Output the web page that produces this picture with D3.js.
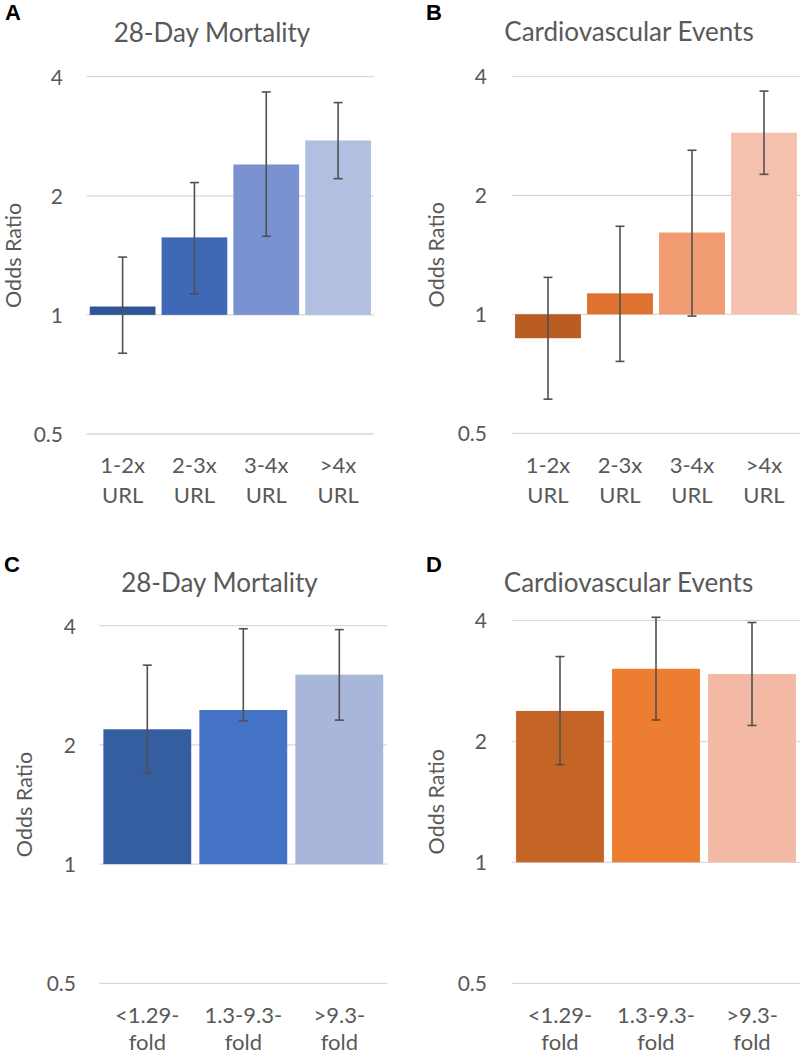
<!DOCTYPE html>
<html>
<head>
<meta charset="utf-8">
<script src="https://cdn.jsdelivr.net/npm/d3@7"></script>
<style>
  html, body { margin: 0; padding: 0; background: #ffffff; }
  svg { display: block; }
  text { font-family: Lato, "Open Sans", sans-serif; fill: #595959; }
</style>
</head>
<body>
<svg id="chart" width="800" height="1054"></svg>
<script>
// ---------- data ----------
const panelLabels = ["A", "B", "C", "D"];
const panelTitles = ["28-Day Mortality", "Cardiovascular Events", "28-Day Mortality", "Cardiovascular Events"];
const yAxisTitle = "Odds Ratio";
const yTickValues = [0.5, 1, 2, 4];
const yTickLabels = ["0.5", "1", "2", "4"];

const urlCategories = [["1-2x", "URL"], ["2-3x", "URL"], ["3-4x", "URL"], [">4x", "URL"]];
const foldCategories = [["<1.29-", "fold"], ["1.3-9.3-", "fold"], [">9.3-", "fold"]];

// A: 28-day mortality by URL multiple
const mortalityUrlOR    = [1.05, 1.57, 2.40, 2.76];
const mortalityUrlLower = [0.80, 1.13, 1.58, 2.21];
const mortalityUrlUpper = [1.40, 2.16, 3.66, 3.44];
// B: cardiovascular events by URL multiple
const cvUrlOR    = [0.87, 1.13, 1.61, 2.88];
const cvUrlLower = [0.61, 0.76, 0.99, 2.26];
const cvUrlUpper = [1.24, 1.67, 2.60, 3.67];
// C: 28-day mortality by fold change
const mortalityFoldOR    = [2.19, 2.45, 3.01];
const mortalityFoldLower = [1.70, 2.30, 2.31];
const mortalityFoldUpper = [3.18, 3.93, 3.91];
// D: cardiovascular events by fold change
const cvFoldOR    = [2.38, 3.03, 2.94];
const cvFoldLower = [1.75, 2.26, 2.19];
const cvFoldUpper = [3.25, 4.07, 3.95];

// ---------- styles / layout ----------
const blues4   = ["#2F5597", "#3F69B6", "#7A93D0", "#B3BFE0"];
const oranges4 = ["#BA5D22", "#DE7230", "#F09B71", "#F5C1AE"];
const blues3   = ["#355EA0", "#4472C4", "#A8B6DA"];
const oranges3 = ["#C46427", "#ED7D31", "#F4B9A4"];

const panels = [
  { label: panelLabels[0], title: panelTitles[0], cats: urlCategories, or: mortalityUrlOR, lo: mortalityUrlLower, hi: mortalityUrlUpper, colors: blues4,
    x0: 86.7, x1: 374, yTop: 76.7, yBot: 434, labelX: 5, labelY: 20, titleX: 212, titleY: 42, tickX: 63, axisTitleX: 13.5, catY: 473, catGap: 30 },
  { label: panelLabels[1], title: panelTitles[1], cats: urlCategories, or: cvUrlOR, lo: cvUrlLower, hi: cvUrlUpper, colors: oranges4,
    x0: 512, x1: 800, yTop: 76.3, yBot: 433.3, labelX: 426, labelY: 20, titleX: 629, titleY: 41, tickX: 487, axisTitleX: 436, catY: 473, catGap: 30 },
  { label: panelLabels[2], title: panelTitles[2], cats: foldCategories, or: mortalityFoldOR, lo: mortalityFoldLower, hi: mortalityFoldUpper, colors: blues3,
    x0: 99.3, x1: 387.3, yTop: 625.7, yBot: 983.3, labelX: 4, labelY: 572, titleX: 219.5, titleY: 592, tickX: 76, axisTitleX: 24, catY: 1023, catGap: 27 },
  { label: panelLabels[3], title: panelTitles[3], cats: foldCategories, or: cvFoldOR, lo: cvFoldLower, hi: cvFoldUpper, colors: oranges3,
    x0: 512, x1: 800, yTop: 620.3, yBot: 983.3, labelX: 426, labelY: 572, titleX: 628.5, titleY: 592, tickX: 487, axisTitleX: 436, catY: 1023, catGap: 27 }
];

const svg = d3.select("#chart");

panels.forEach(p => {
  const g = svg.append("g");
  const keys = p.cats.map(c => c.join(" "));
  const x = d3.scaleBand().domain(keys).range([p.x0, p.x1]).paddingInner(0.085).paddingOuter(0.0425);
  const y = d3.scaleLog().base(2).domain([0.5, 4]).range([p.yBot, p.yTop]);

  // gridlines
  g.append("g").selectAll("line").data(yTickValues).join("line")
    .attr("x1", p.x0).attr("x2", p.x1)
    .attr("y1", d => y(d)).attr("y2", d => y(d))
    .attr("stroke", "#D9D9D9").attr("stroke-width", 1.3);

  // y axis tick labels via d3 axis
  const yAxis = d3.axisLeft(y).tickValues(yTickValues).tickFormat((d, i) => yTickLabels[i]).tickSize(0).tickPadding(0);
  const ya = g.append("g").attr("transform", `translate(${p.tickX},0)`).call(yAxis);
  ya.select(".domain").remove();
  ya.selectAll("text").attr("font-size", 21).attr("dy", "0.36em").style("font-family", "Lato, sans-serif").attr("fill", "#595959");

  // bars
  const data = keys.map((k, i) => ({ k, v: p.or[i], lo: p.lo[i], hi: p.hi[i], c: p.colors[i] }));
  g.append("g").selectAll("rect").data(data).join("rect")
    .attr("x", d => x(d.k))
    .attr("width", x.bandwidth())
    .attr("y", d => Math.min(y(d.v), y(1)))
    .attr("height", d => Math.abs(y(1) - y(d.v)))
    .attr("fill", d => d.c);

  // error bars
  const eb = g.append("g").attr("stroke", "#505050").attr("stroke-width", 1.6).attr("fill", "none");
  data.forEach(d => {
    const cx = x(d.k) + x.bandwidth() / 2;
    eb.append("line").attr("x1", cx).attr("x2", cx).attr("y1", y(d.hi)).attr("y2", y(d.lo));
    eb.append("line").attr("x1", cx - 4.5).attr("x2", cx + 4.5).attr("y1", y(d.hi)).attr("y2", y(d.hi));
    eb.append("line").attr("x1", cx - 4.5).attr("x2", cx + 4.5).attr("y1", y(d.lo)).attr("y2", y(d.lo));
  });

  // category labels (two lines)
  const cl = g.append("g");
  p.cats.forEach((c, i) => {
    const cx = x(keys[i]) + x.bandwidth() / 2;
    const t = cl.append("text").attr("text-anchor", "middle").attr("font-size", 22);
    c.forEach((line, j) => {
      t.append("tspan").attr("x", cx).attr("y", p.catY + j * p.catGap).text(line);
    });
  });

  // y axis title
  const my = (p.yTop + p.yBot) / 2;
  g.append("text")
    .attr("transform", `translate(${p.axisTitleX},${my}) rotate(-90)`)
    .attr("text-anchor", "middle").attr("dy", "0.36em")
    .attr("font-size", 21.5).text(yAxisTitle);

  // chart title
  g.append("text").attr("x", p.titleX).attr("y", p.titleY)
    .attr("text-anchor", "middle").attr("font-size", 26).text(p.title);

  // panel label
  g.append("text").attr("x", p.labelX).attr("y", p.labelY)
    .attr("font-size", 22).attr("font-weight", "bold")
    .style("font-family", "'Liberation Sans', Arial, sans-serif").style("fill", "#000").text(p.label);
});
</script>
</body>
</html>
